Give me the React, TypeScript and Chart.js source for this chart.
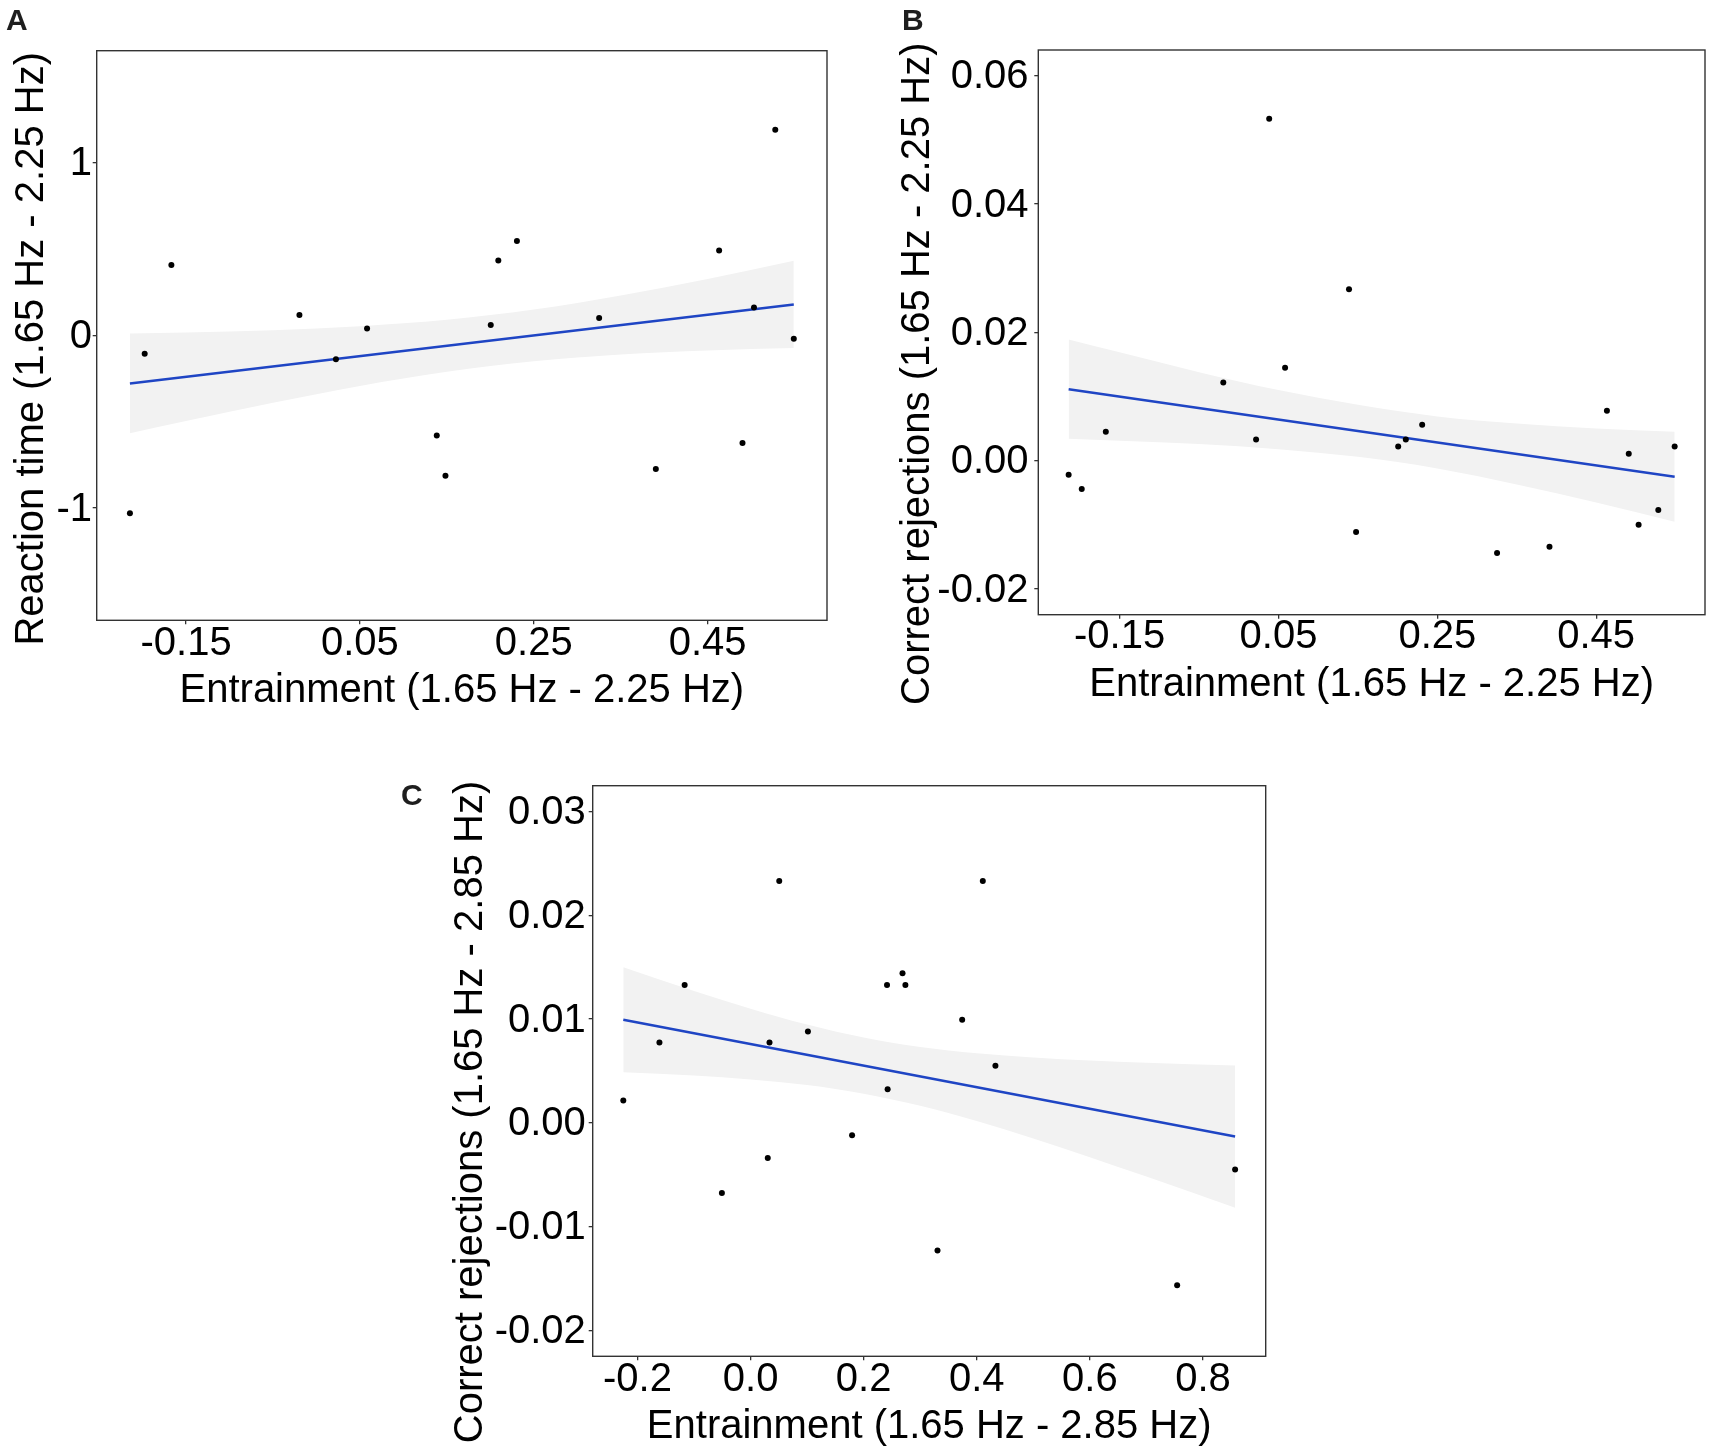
import React, { useEffect, useRef } from "react";
import { Chart, registerables } from "chart.js";

Chart.register(...registerables);

const FONT = '"Liberation Sans", Arial, Helvetica, sans-serif';

// ---------------- Panel A ----------------
const A_X = [-0.2146, -0.1976, -0.1669, -0.0196, 0.0224, 0.0582, 0.1384, 0.1484, 0.2005, 0.2092, 0.2306, 0.3252, 0.3904, 0.4632, 0.4901, 0.5033, 0.5278, 0.5491];
const A_Y = [-1.03, -0.106, 0.408, 0.119, -0.138, 0.04, -0.58, -0.813, 0.061, 0.434, 0.548, 0.101, -0.774, 0.493, -0.623, 0.162, 1.192, -0.019];
const A_FIT_X = [-0.2146, 0.5491];
const A_FIT_Y = [-0.278, 0.18];
const A_BAND_X = [-0.2146, -0.15, -0.05, 0.05, 0.15, 0.25, 0.35, 0.45, 0.5491];
const A_BAND_HI = [0.011, 0.017, 0.031, 0.054, 0.091, 0.15, 0.232, 0.328, 0.433];
const A_BAND_LO = [-0.567, -0.496, -0.39, -0.292, -0.21, -0.149, -0.11, -0.087, -0.073];
const A_X_TICKS = [-0.15, 0.05, 0.25, 0.45];
const A_X_LABELS = ["-0.15", "0.05", "0.25", "0.45"];
const A_Y_TICKS = [-1, 0, 1];
const A_Y_LABELS = ["-1", "0", "1"];

// ---------------- Panel B ----------------
const B_X = [-0.2142, -0.1977, -0.1674, -0.0195, 0.0218, 0.0383, 0.0583, 0.1388, 0.1477, 0.2007, 0.2103, 0.2309, 0.3252, 0.3912, 0.4635, 0.491, 0.5034, 0.5282, 0.5488];
const B_Y = [-0.0022, -0.0044, 0.0045, 0.0122, 0.0033, 0.0533, 0.0145, 0.0267, -0.0111, 0.0022, 0.0033, 0.0056, -0.0144, -0.0134, 0.0078, 0.0011, -0.01, -0.0077, 0.0022];
const B_FIT_X = [-0.2142, 0.5488];
const B_FIT_Y = [0.01115, -0.0025];
const B_BAND_X = [-0.2142, -0.15, -0.05, 0.05, 0.15, 0.25, 0.35, 0.45, 0.5488];
const B_BAND_HI = [0.0189, 0.0169, 0.0138, 0.011, 0.0087, 0.0069, 0.0058, 0.005, 0.0045];
const B_BAND_LO = [0.0034, 0.0031, 0.0026, 0.0018, 0.0006, -0.0012, -0.0037, -0.0065, -0.0095];
const B_X_TICKS = [-0.15, 0.05, 0.25, 0.45];
const B_X_LABELS = ["-0.15", "0.05", "0.25", "0.45"];
const B_Y_TICKS = [-0.02, 0, 0.02, 0.04, 0.06];
const B_Y_LABELS = ["-0.02", "0.00", "0.02", "0.04", "0.06"];

// ---------------- Panel C ----------------
const C_X = [-0.2251, -0.1612, -0.1166, -0.0507, 0.0304, 0.0335, 0.0507, 0.1014, 0.1795, 0.2413, 0.2424, 0.2687, 0.2738, 0.3306, 0.3742, 0.4107, 0.433, 0.7544, 0.8569];
const C_Y = [0.00215, 0.00774, 0.01328, -0.00677, -0.00339, 0.00774, 0.02331, 0.0088, -0.00119, 0.01328, 0.00325, 0.01443, 0.01328, -0.01231, 0.00994, 0.02331, 0.0055, -0.01566, -0.00449];
const C_FIT_X = [-0.2251, 0.8569];
const C_FIT_Y = [0.00994, -0.00132];
const C_BAND_X = [-0.2251, -0.1, 0.0, 0.1, 0.2, 0.3, 0.4, 0.5, 0.6, 0.7, 0.8569];
const C_BAND_HI = [0.015, 0.01272, 0.01101, 0.00948, 0.00823, 0.00732, 0.00671, 0.00631, 0.00601, 0.0058, 0.00554];
const C_BAND_LO = [0.00488, 0.00456, 0.00419, 0.00364, 0.00281, 0.00164, 0.00017, -0.00151, -0.00331, -0.00518, -0.00818];
const C_X_TICKS = [-0.2, 0, 0.2, 0.4, 0.6, 0.8];
const C_X_LABELS = ["-0.2", "0.0", "0.2", "0.4", "0.6", "0.8"];
const C_Y_TICKS = [-0.02, -0.01, 0, 0.01, 0.02, 0.03];
const C_Y_LABELS = ["-0.02", "-0.01", "0.00", "0.01", "0.02", "0.03"];

const zip = (xs: number[], ys: number[]) => xs.map((x, i) => ({ x, y: ys[i] }));

type Spec = {
  key: string;
  letter: string;
  xTitle: string;
  yTitle: string;
  px: number[]; py: number[];
  fx: number[]; fy: number[];
  bx: number[]; bhi: number[]; blo: number[];
  xTicks: number[]; xLabels: string[];
  yTicks: number[]; yLabels: string[];
  xMin: number; xMax: number; yMin: number; yMax: number;
  left: number; top: number; w: number; h: number;
  padTop: number; padRight: number;
  yWidth: number; xHeight: number;
  xTickPad: number; yTickPad: number; xTitlePadBottom: number;
  letterX: number; letterY: number;
  yTitleX: number; yTitleY: number;
};

const SPECS: Spec[] = [
  {
    key: "A", letter: "A",
    xTitle: "Entrainment (1.65 Hz - 2.25 Hz)",
    yTitle: "Reaction time (1.65 Hz - 2.25 Hz)",
    px: A_X, py: A_Y, fx: A_FIT_X, fy: A_FIT_Y, bx: A_BAND_X, bhi: A_BAND_HI, blo: A_BAND_LO,
    xTicks: A_X_TICKS, xLabels: A_X_LABELS, yTicks: A_Y_TICKS, yLabels: A_Y_LABELS,
    xMin: -0.2528, xMax: 0.5873, yMin: -1.65, yMax: 1.65,
    left: 0, top: 0, w: 860, h: 730, padTop: 50.7, padRight: 33, yWidth: 96.7, xHeight: 109.7,
    xTickPad: -0.4, yTickPad: 0.7, xTitlePadBottom: 19,
    letterX: 6, letterY: 30, yTitleX: 31.5, yTitleY: 348.8,
  },
  {
    key: "B", letter: "B",
    xTitle: "Entrainment (1.65 Hz - 2.25 Hz)",
    yTitle: "Correct rejections (1.65 Hz - 2.25 Hz)",
    px: B_X, py: B_Y, fx: B_FIT_X, fy: B_FIT_Y, bx: B_BAND_X, bhi: B_BAND_HI, blo: B_BAND_LO,
    xTicks: B_X_TICKS, xLabels: B_X_LABELS, yTicks: B_Y_TICKS, yLabels: B_Y_LABELS,
    xMin: -0.2524, xMax: 0.587, yMin: -0.024, yMax: 0.064,
    left: 860, top: 0, w: 853, h: 730, padTop: 50, padRight: 8, yWidth: 178.3, xHeight: 115.3,
    xTickPad: -2.1, yTickPad: 5.8, xTitlePadBottom: 25.3,
    letterX: 42, letterY: 29.5, yTitleX: 58.1, yTitleY: 373.7,
  },
  {
    key: "C", letter: "C",
    xTitle: "Entrainment (1.65 Hz - 2.85 Hz)",
    yTitle: "Correct rejections (1.65 Hz - 2.85 Hz)",
    px: C_X, py: C_Y, fx: C_FIT_X, fy: C_FIT_Y, bx: C_BAND_X, bhi: C_BAND_HI, blo: C_BAND_LO,
    xTicks: C_X_TICKS, xLabels: C_X_LABELS, yTicks: C_Y_TICKS, yLabels: C_Y_LABELS,
    xMin: -0.2792, xMax: 0.911, yMin: -0.0225, yMax: 0.0325,
    left: 380, top: 740, w: 900, h: 715, padTop: 45.7, padRight: 14.3, yWidth: 212.7, xHeight: 98.7,
    xTickPad: -0.7, yTickPad: 2.9, xTitlePadBottom: 7.7,
    letterX: 21, letterY: 65, yTitleX: 91.1, yTitleY: 372,
  },
];

const panelTextPlugin = {
  id: "panelText",
  afterDraw(chart: any, _args: any, opts: any) {
    const ctx = chart.ctx as CanvasRenderingContext2D;
    ctx.save();
    ctx.fillStyle = "#1e1e1e";
    ctx.font = `bold 30px ${FONT}`;
    ctx.textAlign = "left";
    ctx.textBaseline = "alphabetic";
    ctx.fillText(opts.letter, opts.letterX, opts.letterY);
    ctx.translate(opts.yTitleX, opts.yTitleY);
    ctx.rotate(-Math.PI / 2);
    ctx.font = `40px ${FONT}`;
    ctx.fillStyle = "#000000";
    ctx.textAlign = "center";
    ctx.textBaseline = "middle";
    ctx.fillText(opts.yTitle, 0, 0);
    ctx.restore();
  },
};

const panelBoxPlugin = {
  id: "panelBox",
  afterDatasetsDraw(chart: any) {
    const { left, top, right, bottom } = chart.chartArea;
    const ctx = chart.ctx as CanvasRenderingContext2D;
    ctx.save();
    ctx.strokeStyle = "#333333";
    ctx.lineWidth = 1.4;
    ctx.strokeRect(left, top, right - left, bottom - top);
    ctx.restore();
  },
};

function buildConfig(s: Spec): any {
  const tickFont = { family: FONT, size: 40, lineHeight: 1 };
  const grid = {
    display: true,
    drawOnChartArea: false,
    drawTicks: true,
    tickLength: 4,
    color: "#333333",
    lineWidth: 1.3,
  };
  return {
    type: "scatter",
    data: {
      datasets: [
        {
          label: "points",
          data: zip(s.px, s.py),
          pointRadius: 3,
          pointBackgroundColor: "#000000",
          pointBorderWidth: 0,
          showLine: false,
        },
        {
          label: "fit",
          data: zip(s.fx, s.fy),
          showLine: true,
          borderColor: "#1f45c4",
          borderWidth: 2.5,
          pointRadius: 0,
          fill: false,
        },
        {
          label: "ci-lower",
          data: zip(s.bx, s.blo),
          showLine: true,
          borderWidth: 0,
          borderColor: "rgba(0,0,0,0)",
          pointRadius: 0,
          cubicInterpolationMode: "monotone",
          fill: false,
        },
        {
          label: "ci-upper",
          data: zip(s.bx, s.bhi),
          showLine: true,
          borderWidth: 0,
          borderColor: "rgba(0,0,0,0)",
          backgroundColor: "#f2f2f2",
          pointRadius: 0,
          cubicInterpolationMode: "monotone",
          fill: "-1",
        },
      ],
    },
    options: {
      responsive: false,
      animation: false,
      events: [],
      layout: { padding: { left: 0, top: s.padTop, right: s.padRight, bottom: 0 } },
      plugins: {
        legend: { display: false },
        tooltip: { enabled: false },
        panelText: {
          letter: s.letter,
          letterX: s.letterX,
          letterY: s.letterY,
          yTitle: s.yTitle,
          yTitleX: s.yTitleX,
          yTitleY: s.yTitleY,
        },
      },
      scales: {
        x: {
          type: "linear",
          position: "bottom",
          min: s.xMin,
          max: s.xMax,
          afterBuildTicks: (scale: any) => {
            scale.ticks = s.xTicks.map((value) => ({ value }));
          },
          afterFit: (scale: any) => {
            scale.height = s.xHeight;
          },
          ticks: {
            autoSkip: false,
            maxRotation: 0,
            minRotation: 0,
            padding: s.xTickPad,
            color: "#000000",
            font: tickFont,
            callback: (_v: any, i: number) => s.xLabels[i],
          },
          grid,
          border: { display: false },
          title: {
            display: true,
            text: s.xTitle,
            color: "#000000",
            font: { family: FONT, size: 40, lineHeight: 1 },
            padding: { top: 0, bottom: s.xTitlePadBottom },
          },
        },
        y: {
          type: "linear",
          position: "left",
          min: s.yMin,
          max: s.yMax,
          afterBuildTicks: (scale: any) => {
            scale.ticks = s.yTicks.map((value) => ({ value }));
          },
          afterFit: (scale: any) => {
            scale.width = s.yWidth;
          },
          ticks: {
            autoSkip: false,
            padding: s.yTickPad,
            labelOffset: 1.5,
            color: "#000000",
            font: tickFont,
            callback: (_v: any, i: number) => s.yLabels[i],
          },
          grid,
          border: { display: false },
          title: { display: false },
        },
      },
    },
    plugins: [panelTextPlugin, panelBoxPlugin],
  };
}

function Panel({ spec }: { spec: Spec }) {
  const ref = useRef<HTMLCanvasElement | null>(null);
  useEffect(() => {
    if (!ref.current) return;
    const chart = new Chart(ref.current, buildConfig(spec));
    return () => chart.destroy();
  }, [spec]);
  return (
    <canvas
      ref={ref}
      width={spec.w}
      height={spec.h}
      style={{ position: "absolute", left: spec.left, top: spec.top, width: spec.w, height: spec.h }}
    />
  );
}

export default function App() {
  return (
    <div
      style={{
        position: "absolute",
        left: 0,
        top: 0,
        width: 1713,
        height: 1455,
        background: "#ffffff",
        overflow: "hidden",
      }}
    >
      {SPECS.map((s) => (
        <Panel key={s.key} spec={s} />
      ))}
    </div>
  );
}
